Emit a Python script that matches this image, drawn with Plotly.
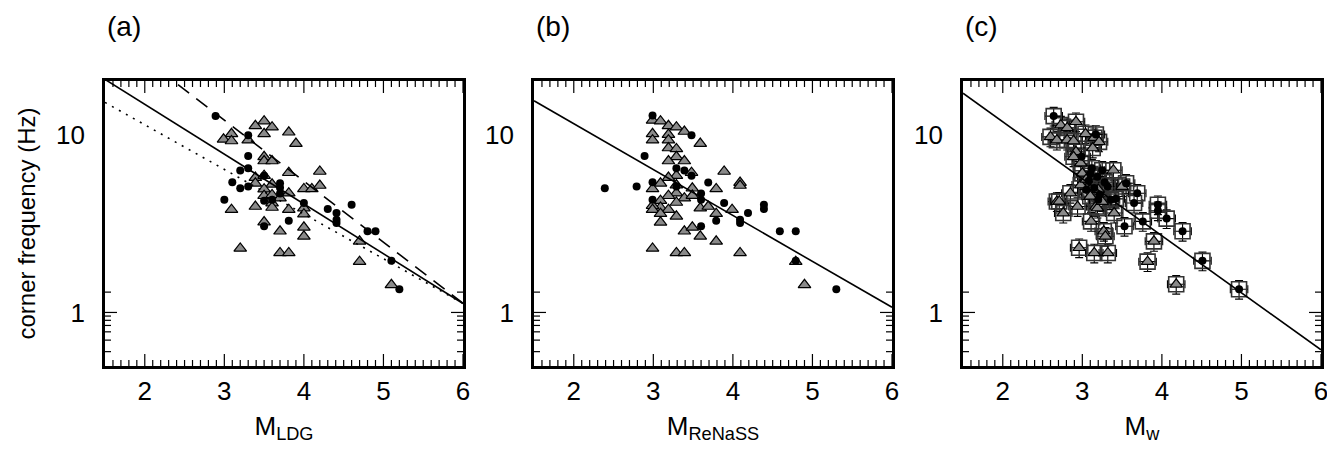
import numpy as np
import plotly.graph_objects as go

# ---------------- data ----------------
# Panel (a): magnitude M_LDG vs corner frequency (Hz)
a_circ_m = [2.89, 3.30, 3.30, 3.30, 3.20, 3.10, 3.20, 3.30, 3.00, 3.50, 3.50, 3.50, 3.70, 3.70,
            3.70, 3.60, 3.81, 4.00, 4.30, 4.41, 4.41, 4.41, 4.60, 4.80, 4.90, 5.10, 5.20]
a_circ_fc = [12.7, 9.9, 7.57, 6.46, 6.27, 5.40, 4.99, 5.1, 4.30, 5.87, 4.25, 3.05, 5.32, 5.02,
             4.67, 4.30, 3.28, 4.12, 3.81, 3.62, 3.32, 3.18, 4.03, 2.86, 2.86, 1.95, 1.35]
a_tri_m = [3.50, 3.39, 3.60, 3.50, 3.09, 2.99, 3.09, 3.30, 3.81, 3.90,
           3.50, 3.50, 3.60, 3.81, 4.20, 3.39, 3.39, 3.50, 3.60, 3.50,
           3.50, 3.60, 3.70, 3.60, 3.60, 3.81, 4.00, 4.10, 4.20, 3.39,
           3.81, 4.00, 4.00, 3.09, 3.50, 3.70, 4.00, 4.00, 3.20, 3.70,
           3.81, 4.70, 4.70, 5.10]
a_tri_fc = [11.9, 11.2, 11.0, 10.1, 10.1, 9.4, 9.2, 9.3, 10.3, 8.9,
            7.5, 7.1, 7.1, 6.1, 6.2, 5.73, 5.32, 5.87, 5.25, 4.93,
            4.53, 4.58, 4.39, 4.12, 3.89, 4.68, 4.95, 4.95, 5.17, 3.94,
            3.78, 3.86, 3.57, 3.78, 3.22, 2.86, 3.01, 2.68, 2.29, 2.16,
            2.16, 2.51, 1.93, 1.43]

# Panel (b): M_ReNaSS
b_circ_m = [2.39, 2.79, 2.89, 2.99, 2.99, 2.99, 3.29, 3.39, 3.48, 3.29, 3.48, 3.60, 3.60,
            3.60, 3.69, 3.79, 3.89, 4.09, 4.09, 4.19, 4.39, 4.39, 4.59, 4.79, 4.79, 5.30]
b_circ_fc = [4.99, 5.1, 7.57, 12.8, 5.40, 4.30, 6.46, 6.27, 5.87, 5.1, 9.9, 4.67, 4.30,
             3.05, 5.37, 3.28, 4.12, 3.32, 3.18, 3.62, 4.03, 3.81, 2.86, 2.86, 1.95, 1.35]
b_tri_m = [2.99, 3.09, 3.19, 3.29, 3.39, 2.99, 2.99, 3.19, 3.19, 3.59,
           3.19, 3.29, 3.29, 3.19, 3.39, 3.89, 3.29, 3.48, 3.19, 3.09,
           2.99, 3.29, 3.49, 3.79, 4.09, 4.09, 3.29, 3.19, 3.39, 3.49,
           3.09, 3.09, 2.99, 2.99, 3.19, 3.09, 3.29, 3.59, 3.69, 3.79,
           3.99, 3.29, 3.09, 3.39, 3.49, 3.59, 3.79, 2.99, 3.29, 3.39,
           4.09, 4.79, 4.90]
b_tri_fc = [12.0, 11.9, 11.2, 11.0, 10.4, 10.1, 9.3, 10.0, 9.3, 8.9,
            8.4, 8.3, 7.5, 7.1, 7.1, 6.2, 5.87, 6.1, 5.73, 5.32,
            4.95, 5.2, 4.99, 4.95, 5.37, 5.17, 4.68, 4.53, 4.39, 4.54,
            4.25, 3.89, 3.98, 3.78, 3.78, 3.59, 4.15, 3.86, 3.94, 3.59,
            3.78, 3.47, 3.21, 2.86, 3.01, 2.68, 2.51, 2.29, 2.16, 2.16,
            2.16, 1.93, 1.43]

# Panel (c): Mw
c_circ_m = [2.64, 3.17, 2.99, 3.12, 3.25, 3.19, 3.32, 3.55, 3.69, 3.65, 3.95, 3.95, 4.06, 3.76,
            3.53, 4.26, 4.51, 4.97, 3.36, 3.08, 3.15, 3.22, 3.05, 3.28, 3.42, 3.10, 3.20]
c_circ_fc = [12.7, 10.0, 7.5, 6.46, 6.3, 5.8, 5.1, 5.32, 4.68, 4.12, 4.03, 3.73, 3.37, 3.25,
             3.05, 2.86, 1.95, 1.35, 4.30, 5.5, 5.0, 4.6, 4.9, 5.4, 4.35, 6.0, 4.3]
c_tri_m = [2.92, 2.73, 2.81, 2.60, 2.68, 2.81, 2.89, 3.04, 3.15, 3.21,
           3.13, 2.92, 2.89, 2.98, 3.00, 3.39, 2.85, 2.68, 2.94, 3.17,
           3.40, 2.96, 3.15, 3.32, 3.90, 3.82, 4.18, 2.71, 2.76, 3.11,
           3.27, 3.29, 3.19, 2.98, 3.50, 3.05, 3.20, 3.10, 3.25]
c_tri_fc = [11.8, 11.3, 10.9, 9.7, 9.3, 9.3, 9.2, 10.1, 9.6, 9.1,
            8.4, 8.0, 7.5, 6.9, 6.05, 6.3, 4.68, 4.2, 3.94, 3.94,
            3.62, 2.31, 2.16, 2.16, 2.51, 1.93, 1.44, 4.21, 3.62, 3.25,
            2.86, 2.68, 3.86, 5.2, 5.1, 5.6, 4.9, 4.5, 4.2]
c_err_m = 0.11      # magnitude uncertainty
c_err_fc_pct = 12   # corner-frequency uncertainty (%)

# regression lines: log10(fc) = A + B*M
fit_a_solid = (1.73, -0.280)
fit_a_dash = (2.11, -0.343)
fit_a_dot = (1.557, -0.251)
fit_b_solid = (1.577, -0.258)
fit_c_solid = (1.713, -0.3205)

x_titles = ["M<sub>LDG</sub>", "M<sub>ReNaSS</sub>", "M<sub>w</sub>"]
panel_labels = ["(a)", "(b)", "(c)"]
x_ticks = [2, 3, 4, 5, 6]
x_minor = [round(1.6 + 0.1 * k, 1) for k in range(44)]
y_ticks = [1, 10]
y_minor = [0.5, 0.6, 0.7, 0.8, 0.9, 2, 3, 4, 5, 6, 7, 8, 9, 20]

# ---------------- figure ----------------
FONT = "Liberation Sans, Arial, Helvetica, sans-serif"
W, H = 1335, 451
ML, MR, MT, MB = 97, 22, 73, 93
pw = W - ML - MR
ph = H - MT - MB
doms_px = [(97, 455), (526, 884), (955, 1313)]
doms = [((a - ML) / pw, (b - ML) / pw) for a, b in doms_px]
XR = [1.5, 6.0]
YR = [np.log10(0.5), np.log10(20)]

fig = go.Figure()
tri_style = dict(symbol="triangle-up", size=11, color="#8a8a8a",
                 line=dict(color="black", width=1.2))
circ_style = dict(symbol="circle", size=8, color="black", line=dict(width=0))
xs = np.linspace(1.5, 6.0, 60)


def add_line(fit, ax, dash):
    A, B = fit
    fig.add_trace(go.Scatter(x=xs, y=10 ** (A + B * xs), mode="lines",
                             line=dict(color="black", width=1.6, dash=dash),
                             xaxis="x" + ax, yaxis="y" + ax, hoverinfo="skip"))


panels = [
    (a_circ_m, a_circ_fc, a_tri_m, a_tri_fc),
    (b_circ_m, b_circ_fc, b_tri_m, b_tri_fc),
    (c_circ_m, c_circ_fc, c_tri_m, c_tri_fc),
]

for i, (cm, cf, tm, tf) in enumerate(panels):
    ax = "" if i == 0 else str(i + 1)
    if i == 2:
        for mm, ff in ((tm, tf), (cm, cf)):
            fig.add_trace(go.Scatter(
                x=mm, y=ff, mode="markers", xaxis="x" + ax, yaxis="y" + ax,
                marker=dict(symbol="square-open", size=15, color="#333333",
                            line=dict(width=1.6, color="#333333")),
                error_x=dict(type="constant", value=c_err_m, color="black",
                             thickness=1.1, width=4),
                error_y=dict(type="percent", value=c_err_fc_pct, color="black",
                             thickness=1.1, width=4)))
    fig.add_trace(go.Scatter(x=tm, y=tf, mode="markers", marker=tri_style,
                             xaxis="x" + ax, yaxis="y" + ax))
    fig.add_trace(go.Scatter(x=cm, y=cf, mode="markers", marker=circ_style,
                             xaxis="x" + ax, yaxis="y" + ax))

add_line(fit_a_solid, "", "solid")
add_line(fit_a_dash, "", "14px,9px")
add_line(fit_a_dot, "", "2px,6px")
add_line(fit_b_solid, "2", "solid")
add_line(fit_c_solid, "3", "solid")

TF = dict(family=FONT, size=26, color="black")

layout = dict(template="none", width=W, height=H,
              margin=dict(l=ML, r=MR, t=MT, b=MB, autoexpand=False),
              plot_bgcolor="white", paper_bgcolor="white", showlegend=False,
              font=dict(family=FONT, color="black", size=26))

for i in range(3):
    sx = "" if i == 0 else str(i + 1)
    layout["xaxis" + sx] = dict(
        showline=True, linecolor="black", linewidth=2.6, mirror=True, automargin=False,
        ticks="", showgrid=False, zeroline=False, tickfont=TF,
        domain=list(doms[i]), range=XR, tickmode="array", tickvals=x_ticks,
        anchor="y" + sx, ticklabelstandoff=0,
        title=dict(text=x_titles[i], font=TF, standoff=12))
    layout["yaxis" + sx] = dict(
        showline=True, linecolor="black", linewidth=2.6, mirror=True, automargin=False,
        ticks="", showgrid=False, zeroline=False, tickfont=TF,
        type="log", domain=[0, 1], range=YR,
        tickmode="array", tickvals=y_ticks, anchor="x" + sx, ticklabelstandoff=12,
        title=dict(text="corner frequency (Hz)" if i == 0 else None,
                   font=dict(family=FONT, size=24, color="black"), standoff=14))

fig.update_layout(**layout)

# tick marks drawn explicitly on all four sides of every panel
MAJ, MIN = 12, 6
shapes = []
for i in range(3):
    sx = "" if i == 0 else str(i + 1)
    tl = dict(color="black", width=1.2)
    for vals, L in ((x_ticks, MAJ), (x_minor, MIN)):
        for v in vals:
            if v in x_ticks and L == MIN:
                continue
            f = L / ph
            shapes.append(dict(type="line", xref="x" + sx, yref="y" + sx + " domain",
                               x0=v, x1=v, y0=0, y1=f, line=tl, layer="above"))
            shapes.append(dict(type="line", xref="x" + sx, yref="y" + sx + " domain",
                               x0=v, x1=v, y0=1, y1=1 - f, line=tl, layer="above"))
    for vals, L in ((y_ticks, MAJ), (y_minor, MIN)):
        for v in vals:
            f = L / (doms_px[i][1] - doms_px[i][0])
            lv = float(np.log10(v))
            shapes.append(dict(type="line", xref="x" + sx + " domain", yref="y" + sx,
                               x0=0, x1=f, y0=lv, y1=lv, line=tl, layer="above"))
            shapes.append(dict(type="line", xref="x" + sx + " domain", yref="y" + sx,
                               x0=1, x1=1 - f, y0=lv, y1=lv, line=tl, layer="above"))
fig.update_layout(shapes=shapes)

for i in range(3):
    fig.add_annotation(text=panel_labels[i], xref="paper", yref="paper",
                       x=doms[i][0], y=1 + (MT - 18) / ph,
                       xanchor="left", yanchor="middle", showarrow=False,
                       font=dict(family=FONT, size=28, color="black"))

fig.write_html("out.html")
